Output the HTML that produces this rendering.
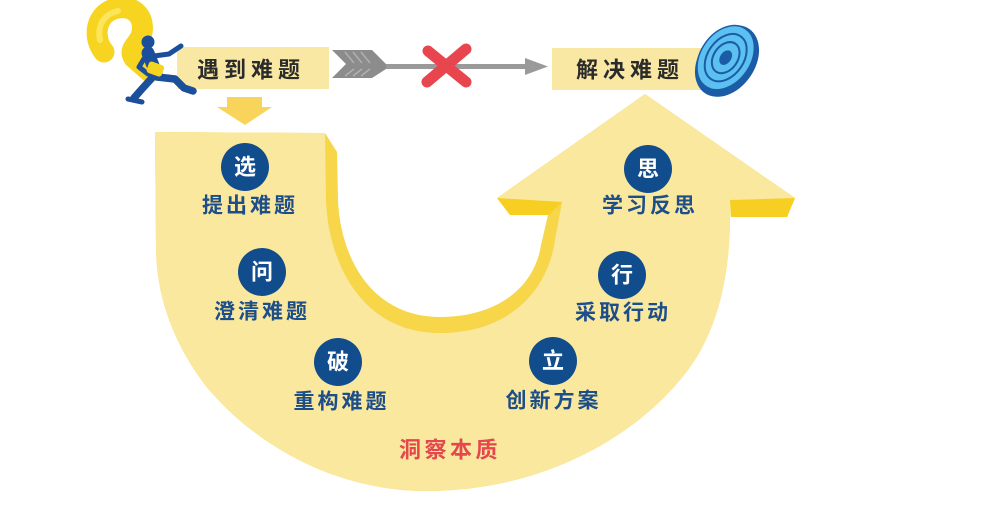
<!DOCTYPE html>
<html>
<head>
<meta charset="utf-8">
<style>
  html,body{margin:0;padding:0;background:#fff;}
  body{width:1006px;height:514px;overflow:hidden;}
  svg{display:block;}
  .lbl{font-family:"Liberation Sans","Noto Sans CJK SC",sans-serif;font-weight:700;}
</style>
</head>
<body>
<svg width="1006" height="514" viewBox="0 0 1006 514" xmlns="http://www.w3.org/2000/svg">
  <!-- dark (3D side) layer of U arrow -->
  <path d="M155,132 L325,133 L337,152 L338,200 C340,255 370,317 440,317 C500,317 535,285 541,245 L548,215 L510,215 L497,198 L645,94 L795,198 L787,217 L731,217 L730,200 C732,280 715,340 680,380 C630,440 540,490 430,491 C330,492 250,440 205,385 C175,345 157,300 156,250 Z" fill="#F7D64A"/>
  <!-- wing dark faces -->
  <polygon points="497,198 562,202 549,215 510,215" fill="#F6CF22"/>
  <polygon points="730,200 795,198 787,217 731,217" fill="#F6CF22"/>
  <!-- light face -->
  <path d="M155,132 L325,133 L326,200 C328,260 360,333 440,333 C510,333 548,290 555,240 L562,202 L497,198 L645,94 L795,198 L730,200 C732,280 715,340 680,380 C630,440 540,490 430,491 C330,492 250,440 205,385 C175,345 157,300 156,250 Z" fill="#F9E89E"/>

  <!-- down arrow -->
  <rect x="227" y="97" width="35" height="11" fill="#F8D55A"/>
  <polygon points="217,107 272,107 245,125" fill="#F8D55A"/>

  <!-- top boxes -->
  <rect x="177" y="47" width="152" height="42" fill="#F9E8A3"/>
  <rect x="552" y="48" width="150" height="42" fill="#F9E8A3"/>
  <text class="lbl" x="251" y="70" font-size="22" letter-spacing="5" text-anchor="middle" dominant-baseline="central" fill="#2B2B2B">遇到难题</text>
  <text class="lbl" x="630" y="70" font-size="22" letter-spacing="5" text-anchor="middle" dominant-baseline="central" fill="#2B2B2B">解决难题</text>

  <!-- gray arrow -->
  <rect x="370" y="64" width="160" height="5" fill="#9A9A9A"/>
  <polygon points="525,58 548,66.5 525,75" fill="#9A9A9A"/>
  <polygon points="332,50 372,50 386,64 386,69 372,78 332,78 346,64" fill="#8C8C8C"/>
  <g stroke="#B0B0B0" stroke-width="1.5">
    <line x1="345" y1="52" x2="354" y2="63"/>
    <line x1="353" y1="52" x2="362" y2="63"/>
    <line x1="361" y1="52" x2="370" y2="63"/>
    <line x1="345" y1="76" x2="354" y2="69"/>
    <line x1="353" y1="76" x2="362" y2="69"/>
    <line x1="361" y1="76" x2="370" y2="69"/>
  </g>
  <!-- red X -->
  <g stroke="#E8454E" stroke-width="11" stroke-linecap="round">
    <line x1="428" y1="51" x2="466" y2="82"/>
    <line x1="466" y1="49" x2="427" y2="82"/>
  </g>

  <!-- target -->
  <g transform="translate(727,61) rotate(35)">
    <ellipse cx="0" cy="0" rx="28" ry="39" fill="#1B5CA6"/>
    <ellipse cx="-3" cy="-2" rx="25" ry="35" fill="#5CC0F0" stroke="#1B5CA6" stroke-width="1.5"/>
    <ellipse cx="-3" cy="-2" rx="18" ry="26" fill="none" stroke="#1B5CA6" stroke-width="2"/>
    <ellipse cx="-3" cy="-2" rx="12" ry="17" fill="none" stroke="#1B5CA6" stroke-width="2"/>
    <ellipse cx="-3" cy="-2" rx="5.5" ry="8" fill="#1B5CA6"/>
  </g>

  <!-- question mark -->
  <path d="M104,52 C92,38 95,12 118,8 C138,5 146,22 141,36 C137,46 128,49 134,58 L150,72" fill="none" stroke="#F6D420" stroke-width="21" stroke-linecap="round" stroke-linejoin="round"/>
  <path d="M100,40 C97,25 104,14 118,11" fill="none" stroke="#FBE86A" stroke-width="6" stroke-linecap="round" opacity="0.8"/>
  <!-- running man -->
  <g fill="none" stroke="#1B4F9B" stroke-linecap="round" stroke-linejoin="round">
    <line x1="148" y1="53" x2="156" y2="73" stroke-width="13"/>
    <polyline points="154,56 169,54 181,46" stroke-width="5"/>
    <polyline points="145,57 139,67 148,74" stroke-width="5"/>
    <polyline points="157,77 175,79 184,88 193,91" stroke-width="7.5"/>
    <polyline points="151,79 141,90 134,98" stroke-width="7.5"/>
    <line x1="128" y1="99" x2="142" y2="102" stroke-width="5"/>
  </g>
  <circle cx="148" cy="42" r="6.5" fill="#1B4F9B"/>
  <rect x="147" y="63" width="16" height="12" rx="3" fill="#F6D420" transform="rotate(20 155 70)"/>

  <!-- circles -->
  <g fill="#114C8D">
    <circle cx="245" cy="167" r="24"/>
    <circle cx="262" cy="272" r="24"/>
    <circle cx="338" cy="362" r="24"/>
    <circle cx="553" cy="361" r="24"/>
    <circle cx="622" cy="275" r="24"/>
    <circle cx="648" cy="169" r="24"/>
  </g>
  <g class="lbl" font-size="22" fill="#FFFFFF" text-anchor="middle" dominant-baseline="central">
    <text x="245" y="167">选</text>
    <text x="262" y="272">问</text>
    <text x="338" y="362">破</text>
    <text x="553" y="361">立</text>
    <text x="622" y="275">行</text>
    <text x="648" y="169">思</text>
  </g>

  <!-- labels -->
  <g class="lbl" font-size="21" letter-spacing="3" fill="#1D4E89" text-anchor="middle" dominant-baseline="central">
    <text x="250" y="206">提出难题</text>
    <text x="262" y="312">澄清难题</text>
    <text x="341.5" y="402">重构难题</text>
    <text x="553.5" y="401">创新方案</text>
    <text x="623" y="313">采取行动</text>
    <text x="650" y="206">学习反思</text>
  </g>
  <text class="lbl" x="450" y="450" font-size="22" letter-spacing="3.5" fill="#E4474E" text-anchor="middle" dominant-baseline="central">洞察本质</text>
</svg>
</body>
</html>
